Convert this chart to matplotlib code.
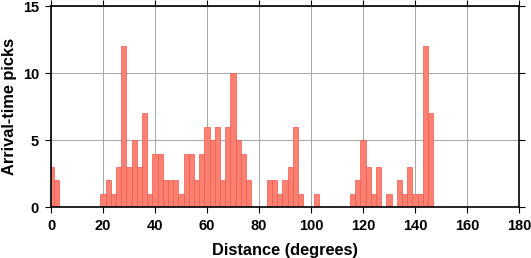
import matplotlib
matplotlib.use("Agg")
import matplotlib.pyplot as plt

plt.rcParams['font.family'] = ['Liberation Sans', 'DejaVu Sans']

bin_centers = [0, 2, 20, 22, 24, 26, 28, 30, 32, 34, 36, 38, 40, 42, 44, 46, 48, 50,
               52, 54, 56, 58, 60, 62, 64, 66, 68, 70, 72, 74, 76, 84, 86, 88, 90,
               92, 94, 96, 102, 116, 118, 120, 122, 124, 126, 130, 134, 136, 138,
               140, 142, 144, 146]
counts = [3, 2, 1, 2, 1, 3, 12, 3, 5, 3, 7, 1, 4, 4, 2, 2, 2, 1,
          4, 4, 2, 4, 6, 5, 6, 2, 6, 10, 5, 4, 2, 2, 2, 1, 2,
          3, 6, 1, 1, 1, 2, 5, 3, 1, 3, 1, 2, 1, 3,
          1, 1, 12, 7]
x_ticks = [0, 20, 40, 60, 80, 100, 120, 140, 160, 180]
y_ticks = [0, 5, 10, 15]
x_label = "Distance (degrees)"
y_label = "Arrival-time picks"

fig = plt.figure(figsize=(5.31, 2.58), dpi=100)
ax = fig.add_axes([51/531, 1 - 207.3/258, (519-51)/531, (207.3-6)/258])

ax.bar(bin_centers, counts, width=2, align='center', facecolor='#FA8072',
       edgecolor='#F5584E', linewidth=0.5, zorder=2)

ax.set_xlim(0, 180)
ax.set_ylim(0, 15)
ax.set_xticks(x_ticks)
ax.set_yticks(y_ticks)
ax.set_axisbelow(True)
ax.grid(True, color='#999999', linewidth=0.6, zorder=0)

for s in ax.spines.values():
    s.set_linewidth(1.2)
    s.set_color('black')

ax.tick_params(direction='out', length=4.3, width=0.8, top=True, right=True,
               labeltop=False, labelright=False, labelsize=10.5, pad=4.3)
for lab in ax.get_xticklabels() + ax.get_yticklabels():
    lab.set_fontweight('bold')

ax.set_xlabel(x_label, fontsize=11.8, fontweight='bold', labelpad=7)
ax.set_ylabel(y_label, fontsize=11.8, fontweight='bold', labelpad=4)

fig.savefig("out.png", dpi=100)
